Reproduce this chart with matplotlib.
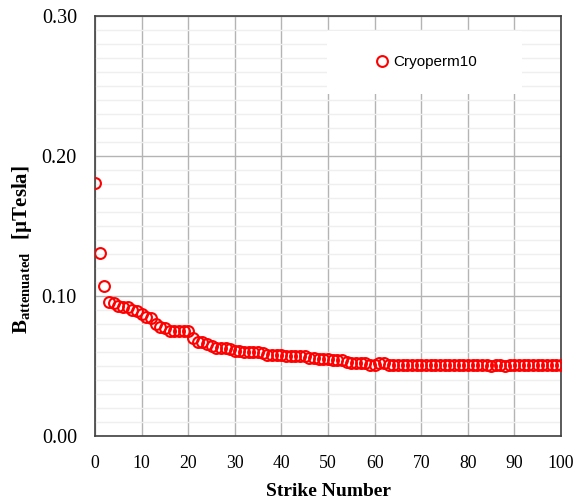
import matplotlib
matplotlib.use('Agg')
import matplotlib.pyplot as plt
from matplotlib.patches import Rectangle
from matplotlib.ticker import MultipleLocator

# strike number vs attenuated field
strike = list(range(0, 101))
b_att = [0.181, 0.131, 0.107, 0.096, 0.095, 0.093, 0.092, 0.092, 0.090, 0.089,
         0.087, 0.085, 0.084, 0.080, 0.078, 0.077, 0.075, 0.075, 0.075, 0.075,
         0.075, 0.070, 0.067, 0.067, 0.066, 0.064, 0.063, 0.063, 0.063, 0.062,
         0.061, 0.061, 0.060, 0.060, 0.060, 0.060, 0.059, 0.058, 0.058, 0.058,
         0.058, 0.057, 0.057, 0.057, 0.057, 0.057, 0.056, 0.056, 0.055, 0.055,
         0.055, 0.054, 0.054, 0.054, 0.053, 0.052, 0.052, 0.052, 0.052, 0.051,
         0.051, 0.052, 0.052, 0.051, 0.051, 0.051, 0.051, 0.051, 0.051, 0.051,
         0.051, 0.051, 0.051, 0.051, 0.051, 0.051, 0.051, 0.051, 0.051, 0.051,
         0.051, 0.051, 0.051, 0.051, 0.051, 0.050, 0.051, 0.051, 0.050, 0.051,
         0.051, 0.051, 0.051, 0.051, 0.051, 0.051, 0.051, 0.051, 0.051, 0.051,
         0.051]
series_name = 'Cryoperm10'

plt.rcParams['font.family'] = 'Liberation Serif'
plt.rcParams['mathtext.fontset'] = 'custom'
plt.rcParams['mathtext.rm'] = 'Liberation Serif'
plt.rcParams['mathtext.bf'] = 'Liberation Serif:bold'

fig = plt.figure(figsize=(5.74, 5.0), dpi=100)
ax = fig.add_axes([0.1655, 0.128, 0.812, 0.84])

ax.plot(strike, b_att, linestyle='none', marker='o', markersize=7.8,
        markerfacecolor='none', markeredgecolor='#ff0000', markeredgewidth=1.5,
        label=series_name, zorder=5)

ax.set_xlim(0, 100)
ax.set_ylim(0, 0.30)
ax.xaxis.set_major_locator(MultipleLocator(10))
ax.yaxis.set_minor_locator(MultipleLocator(0.01))
ax.set_yticks([0.0, 0.1, 0.2, 0.3])
ax.set_yticklabels(['0.00', '0.10', '0.20', '0.30'])

ax.grid(True, which='major', color='#b4b4b4', linewidth=1.0, zorder=0)
ax.grid(True, which='minor', axis='y', color='#efefef', linewidth=1.0, zorder=0)
ax.set_axisbelow(True)

ax.tick_params(which='both', length=0)
ax.tick_params(axis='x', labelsize=12.8, pad=14)
ax.tick_params(axis='y', labelsize=14.5, pad=13)

for s in ax.spines.values():
    s.set_color('#404040')
    s.set_linewidth(1.2)

ax.set_xlabel('Strike Number', fontsize=14, fontweight='bold', va='center')
ax.xaxis.set_label_coords(0.5, -0.133)
ax.set_ylabel(r'$\mathbf{B}_{\mathbf{attenuated}}\ \ \mathbf{[µTesla]}$',
              fontsize=15, va='center')
ax.yaxis.set_label_coords(-0.157, 0.445)

# white legend area covering the grid
ax.add_patch(Rectangle((0.498, 0.814), 0.418, 0.15, transform=ax.transAxes,
                       facecolor='white', edgecolor='none', zorder=1))
ax.legend(loc='center left', bbox_to_anchor=(0.603, 0.890), frameon=False,
          prop={'family': 'Liberation Sans', 'size': 11},
          handletextpad=0.33, borderpad=0, borderaxespad=0, handlelength=0.8)

fig.savefig('out.png', dpi=100)
